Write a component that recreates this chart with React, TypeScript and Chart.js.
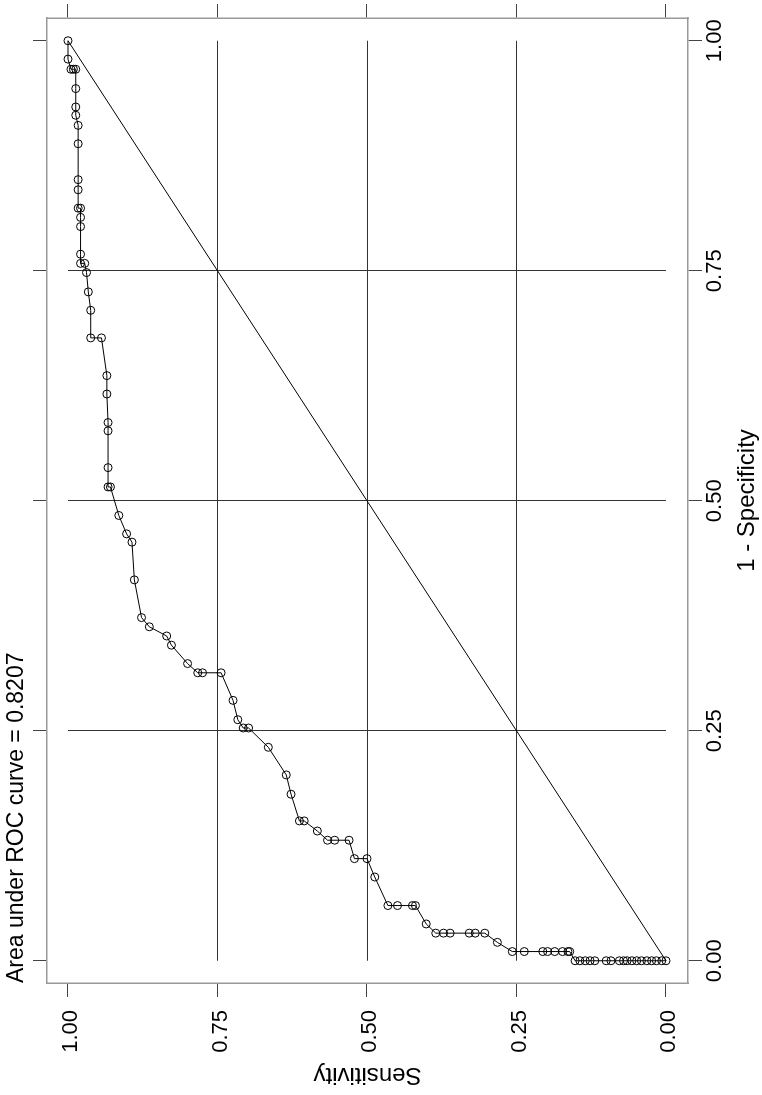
import React, { useEffect, useRef } from "react";
import { Chart, registerables } from "chart.js";

Chart.register(...registerables);

// 1 - Specificity (false positive rate), ascending
const fpr: number[] = [
  0, 0, 0, 0, 0, 0, 0, 0, 0, 0, 0, 0, 0, 0, 0, 0, 0, 0,
  0.010, 0.010, 0.010, 0.010, 0.010, 0.010, 0.010, 0.010,
  0.020,
  0.030, 0.030, 0.030, 0.030, 0.030, 0.030,
  0.040,
  0.060, 0.060, 0.060, 0.060,
  0.091,
  0.111, 0.111,
  0.131, 0.131, 0.131,
  0.141,
  0.152, 0.152,
  0.181,
  0.202,
  0.232,
  0.253, 0.253,
  0.262,
  0.283,
  0.313, 0.313, 0.313,
  0.323,
  0.343,
  0.353,
  0.363,
  0.373,
  0.414,
  0.455,
  0.464,
  0.484,
  0.515, 0.515,
  0.536,
  0.576,
  0.585,
  0.616,
  0.636,
  0.677, 0.677,
  0.707,
  0.727,
  0.748,
  0.758, 0.758,
  0.768,
  0.798,
  0.808,
  0.818, 0.818,
  0.838,
  0.849,
  0.888,
  0.908,
  0.919,
  0.928,
  0.948,
  0.969, 0.969, 0.969,
  0.980,
  1.0,
];

// Sensitivity, matching fpr entries
const sens: number[] = [
  0, 0.007, 0.016, 0.024, 0.032, 0.041, 0.049, 0.057, 0.065, 0.071, 0.078, 0.092, 0.100, 0.119, 0.127, 0.135, 0.144, 0.152,
  0.161, 0.164, 0.173, 0.186, 0.198, 0.206, 0.237, 0.257,
  0.282,
  0.303, 0.319, 0.329, 0.361, 0.372, 0.385,
  0.401,
  0.419, 0.424, 0.449, 0.465,
  0.487,
  0.500, 0.521,
  0.530, 0.554, 0.566,
  0.583,
  0.605, 0.613,
  0.627,
  0.635,
  0.665,
  0.698, 0.707,
  0.716,
  0.724,
  0.744, 0.775, 0.783,
  0.800,
  0.827,
  0.835,
  0.864,
  0.877,
  0.889,
  0.893,
  0.902,
  0.915,
  0.929, 0.933,
  0.933,
  0.933,
  0.933,
  0.935,
  0.935,
  0.944, 0.962,
  0.962,
  0.966,
  0.969,
  0.972, 0.979,
  0.979,
  0.979,
  0.979,
  0.979, 0.983,
  0.983,
  0.983,
  0.983,
  0.983,
  0.987,
  0.987,
  0.987,
  0.987, 0.991, 0.995,
  1.0,
  1.0,
];

const refLineX: number[] = [0, 1];
const refLineY: number[] = [0, 1];
const tickValues: number[] = [0, 0.25, 0.5, 0.75, 1];
const gridValues: number[] = [0.25, 0.5, 0.75];
const aucNote = "Area under ROC curve = 0.8207";
const xTitle = "1 - Specificity";
const yTitle = "Sensitivity";

const FONT_FAMILY = '"Liberation Sans", Arial, Helvetica, sans-serif';
const W = 1095;
const H = 762;

export default function App() {
  const canvasRef = useRef<HTMLCanvasElement | null>(null);

  useEffect(() => {
    document.body.style.overflow = "hidden";
    const canvas = canvasRef.current;
    if (!canvas) return;

    const tickFont = { family: FONT_FAMILY, size: 22 };
    const axisTitleFont = { family: FONT_FAMILY, size: 24 };
    const noteFont = { family: FONT_FAMILY, size: 23 };
    const frameColor = "#999999";
    const tickColor = "#444444";

    const setTicks = (scale: any) => {
      scale.ticks = tickValues.map((v) => ({ value: v }));
    };

    const xRange = { min: -0.0242, max: 1.0247 };
    const yRange = { min: -0.0368, max: 1.0351 };

    const commonGrid = {
      drawOnChartArea: false,
      drawTicks: true,
      tickLength: 14,
      tickColor: tickColor,
      tickWidth: 1,
    };
    const commonBorder = { display: true, color: frameColor, width: 1.5 };

    const gridPlugin = {
      id: "rocGrid",
      beforeDatasetsDraw(chart: any) {
        const { ctx, scales } = chart;
        const xs = scales.x;
        const ys = scales.y;
        ctx.save();
        ctx.strokeStyle = "#333333";
        ctx.lineWidth = 1;
        const y0 = ys.getPixelForValue(0);
        const y1 = ys.getPixelForValue(1);
        const x0 = xs.getPixelForValue(0);
        const x1 = xs.getPixelForValue(1);
        gridValues.forEach((v) => {
          const px = Math.round(xs.getPixelForValue(v)) + 0.5;
          ctx.beginPath();
          ctx.moveTo(px, y0);
          ctx.lineTo(px, y1);
          ctx.stroke();
          const py = Math.round(ys.getPixelForValue(v)) + 0.5;
          ctx.beginPath();
          ctx.moveTo(x0, py);
          ctx.lineTo(x1, py);
          ctx.stroke();
        });
        ctx.restore();
      },
    };

    const chart = new Chart(canvas, {
      type: "scatter",
      data: {
        datasets: [
          {
            label: "Reference",
            data: refLineX.map((x, i) => ({ x, y: refLineY[i] })),
            showLine: true,
            borderColor: "#000000",
            borderWidth: 1,
            pointRadius: 0,
            fill: false,
          },
          {
            label: "ROC",
            data: fpr.map((x, i) => ({ x, y: sens[i] })),
            showLine: true,
            borderColor: "#000000",
            borderWidth: 1,
            pointRadius: 4,
            pointBorderWidth: 1,
            pointBorderColor: "#000000",
            pointBackgroundColor: "rgba(0,0,0,0)",
            pointStyle: "circle",
            fill: false,
            tension: 0,
          },
        ],
      },
      options: {
        responsive: false,
        animation: false,
        devicePixelRatio: 1,
        layout: { padding: 0 },
        plugins: {
          legend: { display: false },
          tooltip: { enabled: false },
          title: { display: false },
        },
        scales: {
          x: {
            type: "linear",
            position: "bottom",
            min: xRange.min,
            max: xRange.max,
            afterBuildTicks: setTicks,
            afterFit: (s: any) => {
              s.height = 74;
            },
            ticks: {
              font: tickFont,
              color: "#000000",
              padding: 0,
              maxRotation: 0,
              minRotation: 0,
              autoSkip: false,
              callback: (v: any) => Number(v).toFixed(2),
            },
            grid: commonGrid,
            border: commonBorder,
            title: {
              display: true,
              text: xTitle,
              font: axisTitleFont,
              color: "#000000",
              padding: { top: 0, bottom: 0 },
            },
          },
          x2: {
            type: "linear",
            position: "top",
            min: xRange.min,
            max: xRange.max,
            afterBuildTicks: setTicks,
            afterFit: (s: any) => {
              s.height = 47;
            },
            ticks: { display: false },
            grid: commonGrid,
            border: commonBorder,
            title: {
              display: true,
              text: aucNote,
              align: "start",
              font: noteFont,
              color: "#000000",
              padding: { top: 2.7, bottom: 0 },
            },
          },
          y: {
            type: "linear",
            position: "left",
            min: yRange.min,
            max: yRange.max,
            afterBuildTicks: setTicks,
            afterFit: (s: any) => {
              s.width = 112;
            },
            ticks: {
              font: tickFont,
              color: "#000000",
              padding: 13,
              labelOffset: 3,
              autoSkip: false,
              callback: (v: any) => Number(v).toFixed(2),
            },
            grid: commonGrid,
            border: commonBorder,
            title: {
              display: true,
              text: yTitle,
              font: axisTitleFont,
              color: "#000000",
              padding: { top: 6, bottom: 0 },
            },
          },
          y2: {
            type: "linear",
            position: "right",
            min: yRange.min,
            max: yRange.max,
            afterBuildTicks: setTicks,
            afterFit: (s: any) => {
              s.width = 18;
            },
            ticks: { display: false },
            grid: commonGrid,
            border: commonBorder,
          },
        },
      },
      plugins: [gridPlugin],
    });

    return () => {
      chart.destroy();
    };
  }, []);

  return (
    <div
      style={{
        position: "fixed",
        left: 0,
        top: 0,
        width: W + "px",
        height: H + "px",
        background: "#ffffff",
        transformOrigin: "0 0",
        transform: `translateY(${W}px) rotate(-90deg)`,
      }}
    >
      <canvas
        ref={canvasRef}
        width={W}
        height={H}
        style={{ display: "block", width: W + "px", height: H + "px" }}
      />
    </div>
  );
}
